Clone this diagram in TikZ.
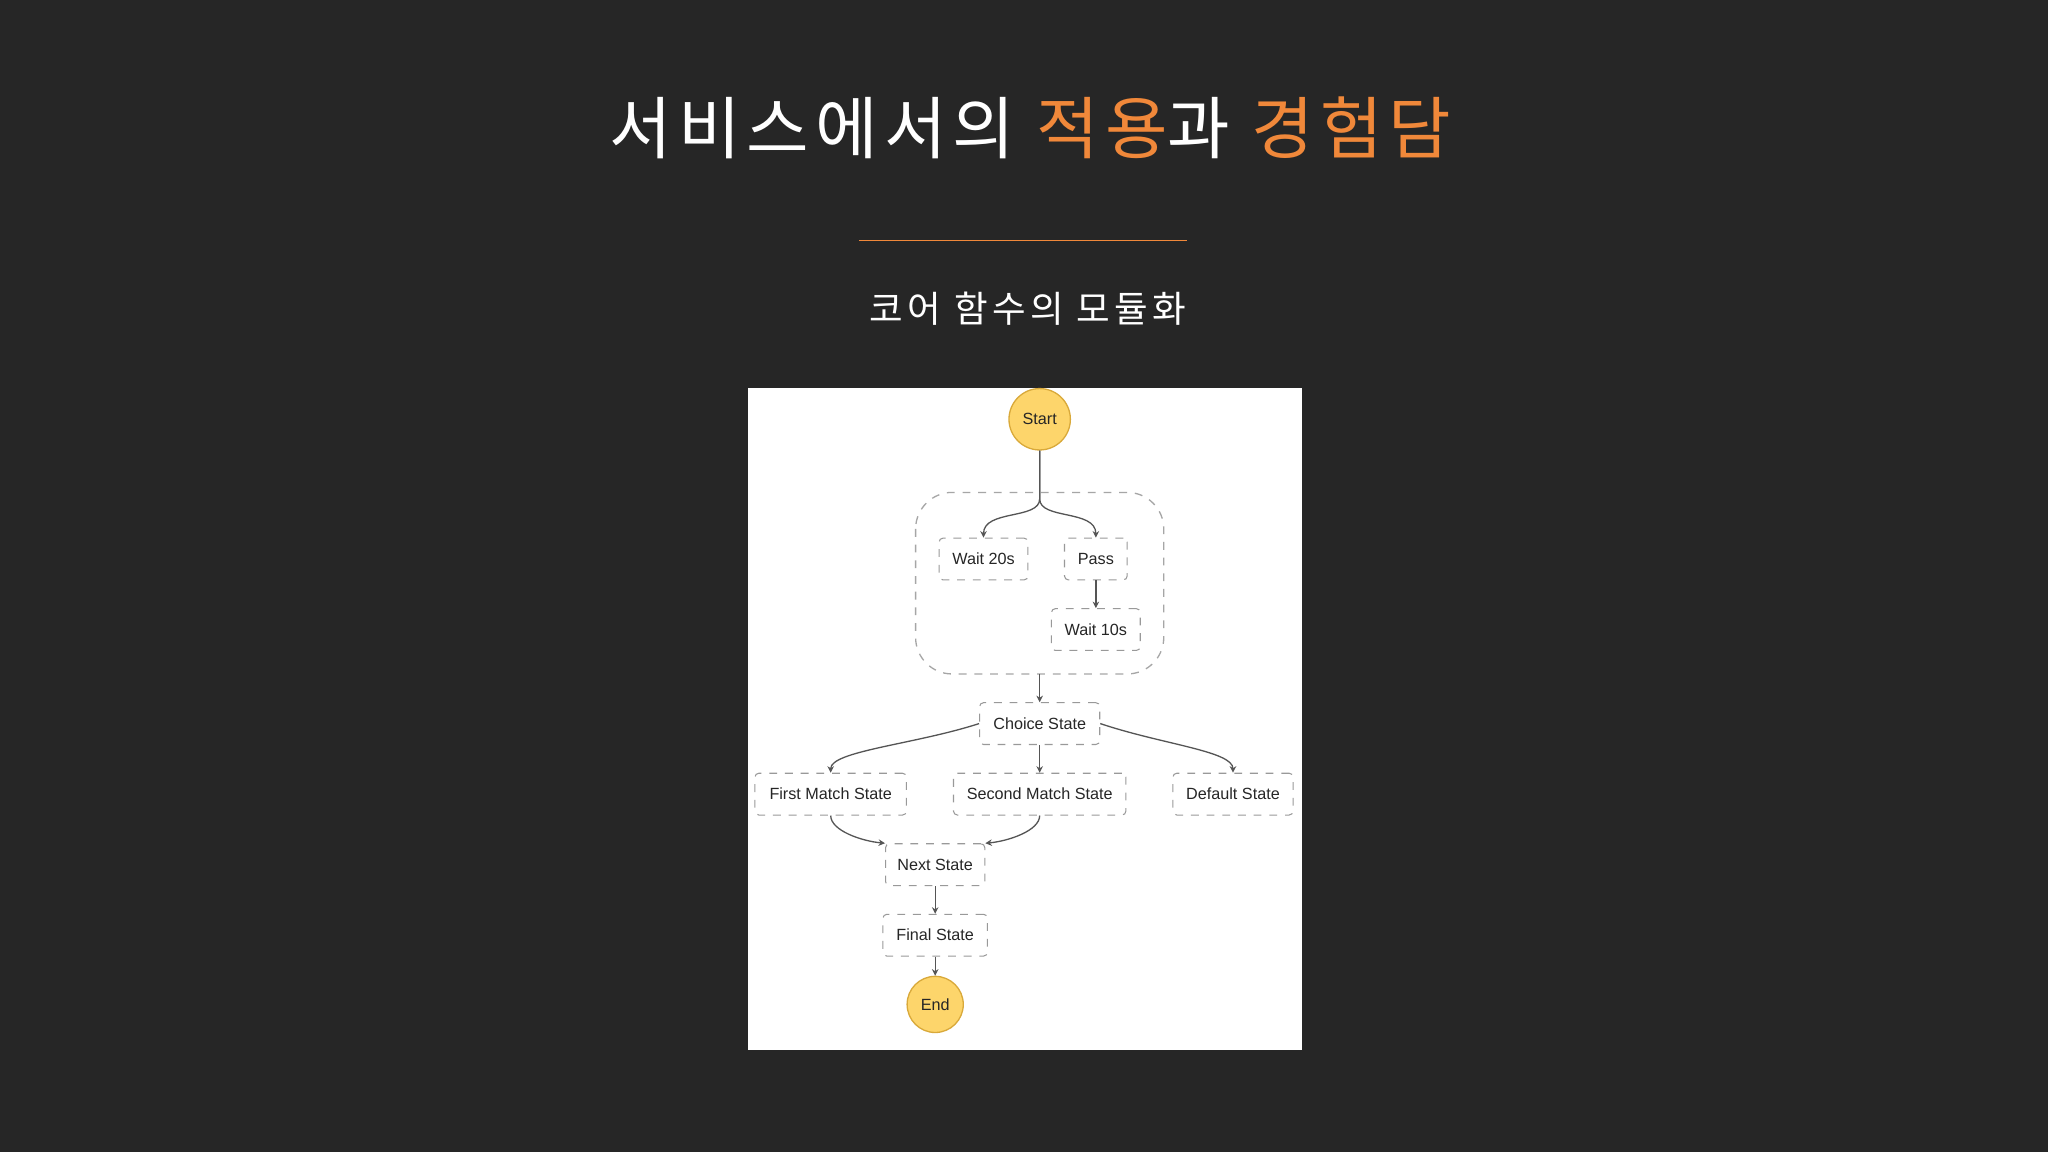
\documentclass[tikz,border=0pt]{standalone}
\usepackage{fontspec}
\setmainfont{Liberation Sans}
\newfontfamily\kr[LetterSpace=9]{Noto Sans CJK KR}
\newfontfamily\krs[LetterSpace=12]{Noto Sans CJK KR}
\usetikzlibrary{arrows.meta}
\definecolor{bg}{HTML}{262626}
\definecolor{org}{HTML}{F0883A}
\definecolor{yel}{HTML}{FDD56B}
\definecolor{yeld}{HTML}{D9A93A}
\definecolor{edg}{HTML}{555555}
\tikzset{
 st/.style={draw=gray!80,dashed,rounded corners=1.5pt,minimum height=16pt,inner sep=0pt,font=\fontsize{6.2}{7}\selectfont,text=black!85},
 term/.style={circle,draw=yeld,fill=yel,line width=0.5pt,inner sep=0pt,font=\fontsize{6.2}{7}\selectfont,text=black!85},
 ar/.style={draw=edg,line width=0.5pt,-{Stealth[length=2.5pt,width=2.5pt]}}
}
\begin{document}
\begin{tikzpicture}[x=0.5pt,y=-0.5pt]
\fill[bg] (0,0) rectangle (1568,882);
\useasboundingbox (0,0) rectangle (1568,882);
\node[font=\kr\fontsize{26}{30}\selectfont,text=white] (title) at (789,98) {서비스에서의 \textcolor{org}{적용}과 \textcolor{org}{경험담}};
\coordinate (l1) at (658,184); \coordinate (l2) at (909,184);
\draw[org,line width=0.6pt] (l1) -- (l2);
\node[font=\krs\fontsize{14}{16}\selectfont,text=white] (sub) at (787,236) {코어 함수의 모듈화};
\fill[white] (573,297) rectangle (997,804);
\draw[gray!70,dashed,rounded corners=14pt,line width=0.5pt] (701,377) rectangle (891,516);
\coordinate (par) at (796,377); \coordinate (parb) at (796,516);
\node[term,minimum size=23.5pt] (start) at (796,321) {Start};
\node[st,minimum width=34pt] (w20) at (753,428) {Wait 20s};
\node[st,minimum width=24pt] (pass) at (839,428) {Pass};
\node[st,minimum width=34pt] (w10) at (839,482) {Wait 10s};
\node[st,minimum width=46pt] (choice) at (796,554) {Choice State};
\node[st,minimum width=58pt] (first) at (636,608) {First Match State};
\node[st,minimum width=66pt] (second) at (796,608) {Second Match State};
\node[st,minimum width=46pt] (def) at (944,608) {Default State};
\node[st,minimum width=38pt] (next) at (716,662) {Next State};
\node[st,minimum width=40pt] (final) at (716,716) {Final State};
\node[term,minimum size=21.5pt] (end) at (716,769) {End};
\draw[ar] (start.south) -- (796,382) .. controls (796,398) and (753,390) .. (w20.north);
\draw[ar] (start.south) -- (796,382) .. controls (796,398) and (839,390) .. (pass.north);
\draw[ar] (pass) -- (w10);
\draw[ar] (parb) -- (choice);
\draw[ar] (choice.west) .. controls (700,570) and (636,575) .. (first.north);
\draw[ar] (choice) -- (second);
\draw[ar] (choice.east) .. controls (890,570) and (944,575) .. (def.north);
\draw[ar] (first.south) .. controls (636,636) and (660,644) .. (next.north west);
\draw[ar] (second.south) .. controls (796,636) and (772,644) .. (next.north east);
\draw[ar] (next) -- (final);
\draw[ar] (final) -- (end);
\end{tikzpicture}
\end{document}
